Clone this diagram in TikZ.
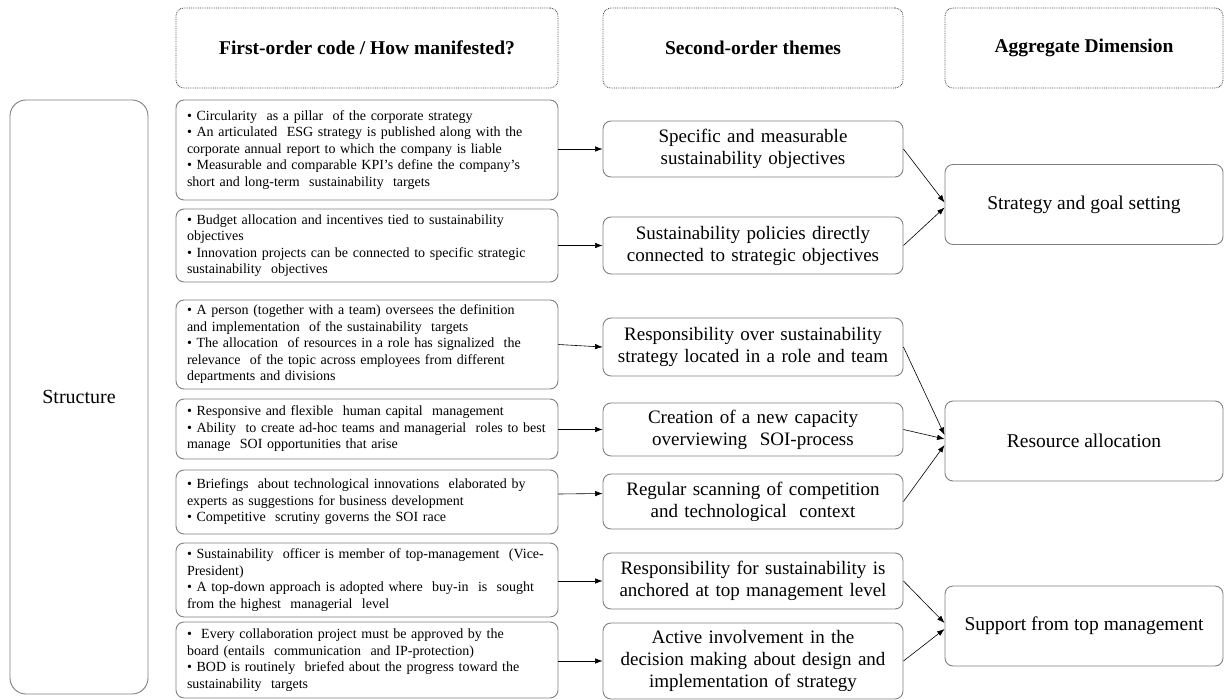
\documentclass[tikz,border=0pt]{standalone}
\usepackage{fontspec}
\setmainfont{Liberation Serif}
\usetikzlibrary{arrows.meta,positioning}
\definecolor{boxGray}{HTML}{808080}
\definecolor{headGray}{HTML}{404040}

\begin{document}
\begin{tikzpicture}[x=1pt,y=-1pt,
 base/.style={draw=boxGray,line width=0.9pt,rounded corners=8pt,inner sep=0pt},
 headbox/.style={base,draw=headGray,line width=0.8pt,densely dotted,minimum height=80pt,
   font=\fontsize{19.5}{22}\selectfont\bfseries},
 fobox/.style={base,minimum width=382pt,text width=360pt,align=left,
   font=\fontsize{14}{16.5}\selectfont},
 sobox/.style={base,minimum width=300pt,text width=290pt,align=center,
   font=\fontsize{19}{22}\selectfont},
 aggbox/.style={base,minimum width=278pt,minimum height=80pt,align=center,
   font=\fontsize{19.5}{22}\selectfont},
 arr/.style={-{Latex[length=7.5pt,width=5.5pt]},line width=0.6pt}]
\useasboundingbox (0,0) rectangle (1225,700);
% column heads
\node[headbox,minimum width=382pt] (hfirst) at (367,48) {First-order code / How manifested?};
\node[headbox,minimum width=300pt] (hsecond) at (753,48) {Second-order themes};
\node[headbox,minimum width=278pt] (hagg) at (1084,48) {Aggregate Dimension};
% left dimension
\node[base,rounded corners=16pt,minimum width=138pt,minimum height=594pt,
  font=\fontsize{20}{22}\selectfont] (structure) at (79,397) {Structure};
% first-order codes
\node[fobox,minimum height=100pt] (f1) at (367,150) {%
• Circularity\ \ as a pillar\ \ of the corporate strategy\\
• An articulated\ \ ESG strategy is published along with the\\
corporate annual report to which the company is liable\\
• Measurable and comparable KPI’s define the company’s\\
short and long-term\ \ sustainability\ \ targets};
\node[fobox,minimum height=73pt] (f2) at (367,245.5) {%
• Budget allocation and incentives tied to sustainability\\
objectives\\
• Innovation projects can be connected to specific strategic\\
sustainability\ \ objectives};
\node[fobox,minimum height=89pt] (f3) at (367,344.5) {%
• A person (together with a team) oversees the definition\\
and implementation\ \ of the sustainability\ \ targets\\
• The allocation\ \ of resources in a role has signalized\ \ the\\
relevance\ \ of the topic across employees from different\\
departments and divisions};
\node[fobox,minimum height=60pt] (f4) at (367,429) {%
• Responsive and flexible\ \ human capital\ \ management\\
• Ability\ \ to create ad-hoc teams and managerial\ \ roles to best\\
manage\ \ SOI opportunities that arise};
\node[fobox,minimum height=64pt] (f5) at (367,502) {%
• Briefings\ \ about technological innovations\ \ elaborated by\\
experts as suggestions for business development\\
• Competitive\ \ scrutiny governs the SOI race};
\node[fobox,minimum height=74pt] (f6) at (367,580) {%
• Sustainability\ \ officer is member of top-management\ \ (Vice-\\
President)\\
• A top-down approach is adopted where\ \ buy-in\ \ is\ \ sought\\
from the highest\ \ managerial\ \ level};
\node[fobox,minimum height=76pt] (f7) at (367,660) {%
•\ \ Every collaboration project must be approved by the\\
board (entails\ \ communication\ \ and IP-protection)\\
• BOD is routinely\ \ briefed about the progress toward the\\
sustainability\ \ targets};
% second-order themes
\node[sobox,minimum height=56pt] (s1) at (753,149) {Specific and measurable\\sustainability objectives};
\node[sobox,minimum height=57pt] (s2) at (753,245.5) {Sustainability policies directly\\connected to strategic objectives};
\node[sobox,minimum height=58pt] (s3) at (753,347) {Responsibility over sustainability\\strategy located in a role and team};
\node[sobox,minimum height=53pt] (s4) at (753,429.5) {Creation of a new capacity\\overviewing\ \ SOI-process};
\node[sobox,minimum height=55pt] (s5) at (753,501.5) {Regular scanning of competition\\and technological\ \ context};
\node[sobox,minimum height=56pt] (s6) at (753,581) {Responsibility for sustainability is\\anchored at top management level};
\node[sobox,minimum height=76pt] (s7) at (753,661) {Active involvement in the\\decision making about design and\\implementation of strategy};
% aggregate dimensions
\node[aggbox] (goal) at (1084,204.5) {Strategy and goal setting};
\node[aggbox] (resource) at (1084,441) {Resource allocation};
\node[aggbox] (support) at (1084,626) {Support from top management};
% codes -> themes
\draw[arr] (f1.east |- s1.west) -- (s1.west);
\draw[arr] (f2.east |- s2.west) -- (s2.west);
\draw[arr] (f3.east) -- (s3.west);
\draw[arr] (f4.east |- s4.west) -- (s4.west);
\draw[arr] ([yshift=8pt]f5.east) -- ([yshift=8pt]s5.west);
\draw[arr] (f6.east |- s6.west) -- (s6.west);
\draw[arr] (f7.east |- s7.west) -- (s7.west);
% themes -> dimensions
\draw[arr] (s1.east) -- ([yshift=2pt]goal.west);
\draw[arr] (s2.east) -- ([yshift=-3pt]goal.west);
\draw[arr] (s3.east) -- ([yshift=6pt]resource.west);
\draw[arr] (s4.east) -- ([yshift=2pt]resource.west);
\draw[arr] (s5.east) -- ([yshift=-4pt]resource.west);
\draw[arr] (s6.east) -- ([yshift=3pt]support.west);
\draw[arr] (s7.east) -- ([yshift=-3pt]support.west);
\end{tikzpicture}
\end{document}
